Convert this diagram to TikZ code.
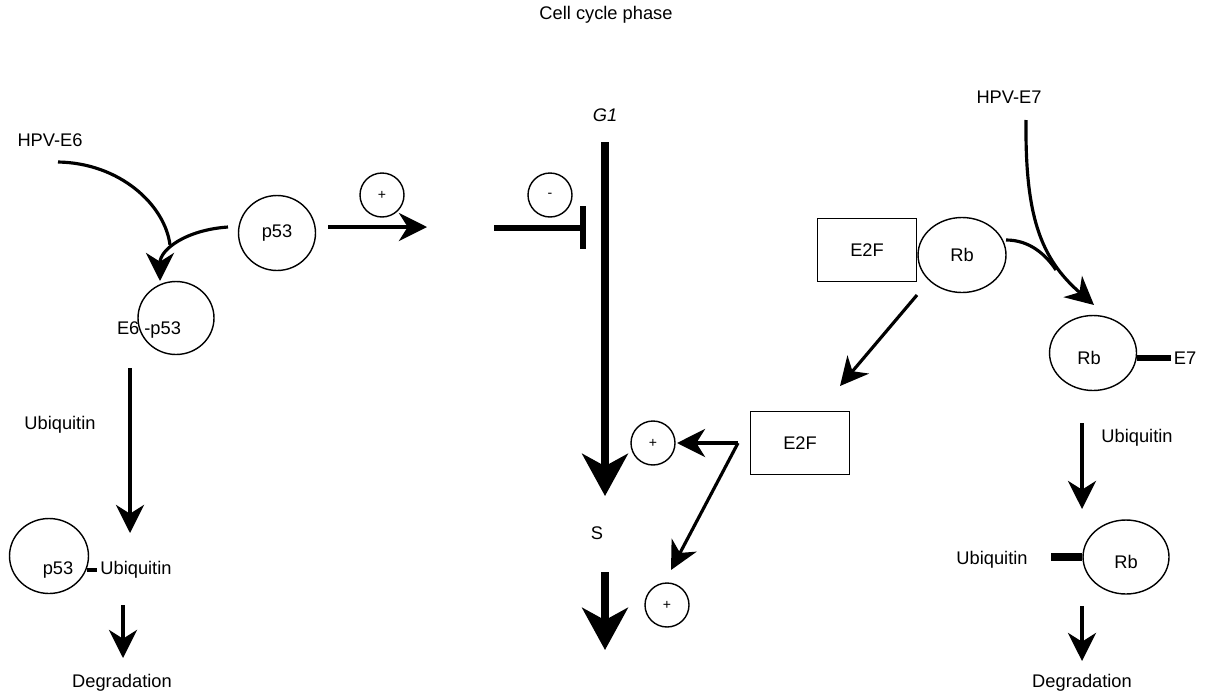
\documentclass[tikz,border=0pt]{standalone}
\usepackage{fontspec}
\setmainfont{Liberation Sans}
\usetikzlibrary{arrows.meta,shapes.geometric}
\begin{document}
\begin{tikzpicture}[x=0.02cm,y=-0.02cm,
  font=\fontsize{10.4}{12}\selectfont,
  mol/.style={draw, ellipse, line width=0.8pt, inner sep=0pt},
  sgn/.style={draw, circle, line width=0.8pt, minimum size=0.88cm, inner sep=0pt, font=\fontsize{8}{9}\selectfont},
  boxn/.style={draw, rectangle, line width=0.9pt, minimum width=1.98cm, minimum height=1.26cm},
  arr/.style={line width=1.8pt, -{Stealth[length=16pt,width=16pt,inset=5pt]}},
  bigarr/.style={line width=4pt, -{Stealth[length=24pt,width=26pt,inset=7pt]}},
  bar/.style={line width=3.8pt},
  lbl/.style={inner sep=0pt}]
\useasboundingbox (0,0) rectangle (1212,693);

% titles
\node[lbl] (title) at (606,15) {Cell cycle phase};
\node[lbl] (g1) at (605,115) {\itshape G1};
\node[lbl] (s) at (597,533) {S};

% central cell-cycle arrows
\coordinate (g1top) at (605,142);
\coordinate (g1end) at (605,496);
\coordinate (stop) at (605,572);
\coordinate (send) at (605,650);
\draw[bigarr] (g1top) -- (g1end);
\draw[bigarr] (stop) -- (send);

% left: p53 pathway
\node[lbl] (hpve6) at (50,140) {HPV-E6};
\node[mol, minimum width=1.54cm, minimum height=1.50cm] (p53) at (277,233) {p53};
\node[mol, minimum width=1.52cm, minimum height=1.46cm] (e6p53) at (176,318) {};
\node[lbl] (e6p53l) at (149,330) {E6 -p53};
\coordinate (e6start) at (58,162);
\coordinate (e6join) at (170,245);
\coordinate (p53out) at (228,227);
\coordinate (e6tip) at (160,281);
\draw[line width=1.8pt] (e6start) .. controls (120,163) and (165,205) .. (e6join);
\draw[arr] (p53out) .. controls (185,230) and (160,250) .. (e6tip);

\coordinate (p53r) at (328,227);
\coordinate (p53rtip) at (427,227);
\draw[arr] (p53r) -- (p53rtip);
\node[sgn] (plus1) at (382,195) {+};

% inhibition
\node[sgn] (minus) at (550,195) {-};
\coordinate (inhA) at (494,228);
\coordinate (inhB) at (583,228);
\coordinate (inhT) at (583,206);
\coordinate (inhU) at (583,249);
\draw[bar] (inhA) -- (inhB);
\draw[bar] (inhT) -- (inhU);

% ubiquitin (left)
\node[lbl] (ubl) at (60,425) {Ubiquitin};
\coordinate (ua) at (130,368);
\coordinate (ub) at (130,533);
\draw[arr] (ua) -- (ub);
\node[mol, minimum width=1.58cm, minimum height=1.50cm] (p53b) at (49,556) {};
\node[lbl] (p53bl) at (58,570) {p53};
\coordinate (b1) at (87,570);
\coordinate (b2) at (97,570);
\draw[line width=2.4pt] (b1) -- (b2);
\node[lbl] (ubl2) at (136,570) {Ubiquitin};
\coordinate (da) at (123,605);
\coordinate (db) at (123,658);
\draw[arr] (da) -- (db);
\node[lbl] (degl) at (122,683) {Degradation};

% right: Rb pathway
\node[lbl] (hpve7) at (1009,97) {HPV-E7};
\node[boxn] (e2f1) at (867,250) {E2F};
\node[mol, minimum width=1.76cm, minimum height=1.50cm] (rb1) at (962,255) {Rb};
\coordinate (e7start) at (1026,120);
\coordinate (e7tip) at (1094,305);
\coordinate (rbout) at (1006,240);
\coordinate (rbjoin) at (1056,270);
\draw[arr] (e7start) .. controls (1025,215) and (1040,258) .. (e7tip);
\draw[line width=1.8pt] (rbout) .. controls (1030,240) and (1046,255) .. (rbjoin);

\node[mol, minimum width=1.74cm, minimum height=1.50cm] (rb2) at (1093,353) {};
\node[lbl] (rb2l) at (1089,358) {Rb};
\coordinate (e7b) at (1171,358);
\draw[bar] (rb2.east |- e7b) -- (e7b);
\node[lbl] (e7l) at (1185,358) {E7};

\node[lbl] (ubr) at (1137,438) {Ubiquitin};
\coordinate (ura) at (1082,423);
\coordinate (urb) at (1082,509);
\draw[arr] (ura) -- (urb);

\node[mol, minimum width=1.72cm, minimum height=1.48cm] (rb3) at (1126,557) {};
\node[lbl] (rb3l) at (1126,562) {Rb};
\coordinate (ubar) at (1051,557);
\draw[line width=4pt] (ubar) -- (rb3.west);
\node[lbl] (ubr2) at (992,560) {Ubiquitin};
\coordinate (dra) at (1082,606);
\coordinate (drb) at (1082,661);
\draw[arr] (dra) -- (drb);
\node[lbl] (degr) at (1082,683) {Degradation};

% E2F released
\coordinate (e2fa) at (917,295);
\coordinate (e2fb) at (840,386);
\draw[arr] (e2fa) -- (e2fb);
\node[boxn] (e2f2) at (800,443) {E2F};
\node[sgn] (plus2) at (653,443) {+};
\node[sgn] (plus3) at (667,605) {+};
\coordinate (fork) at (738,443);
\coordinate (p2tip) at (677,443);
\coordinate (p3tip) at (671,570);
\draw[arr] (fork) -- (p2tip);
\draw[arr] (fork) -- (p3tip);
\end{tikzpicture}
\end{document}
